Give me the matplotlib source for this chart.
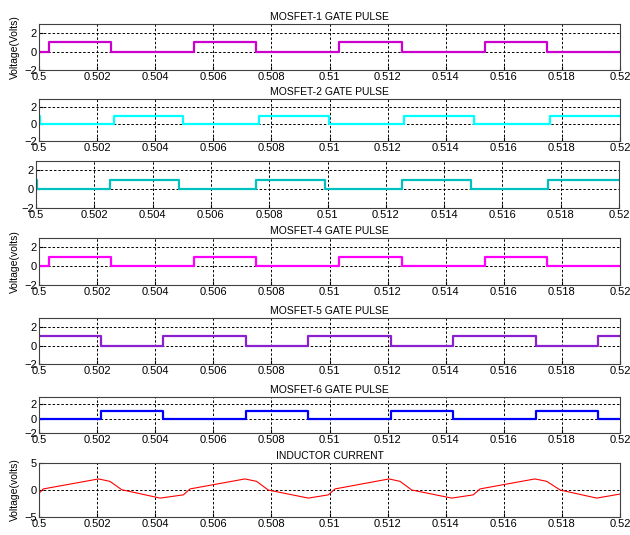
import matplotlib.pyplot as plt

plt.rcParams['font.family'] = ['Liberation Sans', 'DejaVu Sans']
plt.rcParams['font.size'] = 7.5

# gate pulse edge times (s) and levels, drawn as step signals
t_g1 = [0.5, 0.50035, 0.50248, 0.50535, 0.50747, 0.51034, 0.51248, 0.51535, 0.51748, 0.52]
v_g1 = [0, 1, 0, 1, 0, 1, 0, 1, 0, 0]

t_g2 = [0.5, 0.50002, 0.50259, 0.50497, 0.50758, 0.50997, 0.51258, 0.51497, 0.51758, 0.52]
v_g2 = [1, 0, 1, 0, 1, 0, 1, 0, 1, 1]

t_g3 = [0.5, 0.50002, 0.50254, 0.50491, 0.50755, 0.50992, 0.51255, 0.51492, 0.51755, 0.52]
v_g3 = [1, 0, 1, 0, 1, 0, 1, 0, 1, 1]

t_g4 = [0.5, 0.50035, 0.50248, 0.50535, 0.50747, 0.51034, 0.51248, 0.51535, 0.51748, 0.52]
v_g4 = [0, 1, 0, 1, 0, 1, 0, 1, 0, 0]

t_g5 = [0.5, 0.50212, 0.50426, 0.50713, 0.50925, 0.51212, 0.51425, 0.51712, 0.51925, 0.52]
v_g5 = [1, 0, 1, 0, 1, 0, 1, 0, 1, 1]

t_g6 = [0.5, 0.50212, 0.50426, 0.50713, 0.50925, 0.51212, 0.51425, 0.51712, 0.51925, 0.52]
v_g6 = [0, 1, 0, 1, 0, 1, 0, 1, 0, 0]

# inductor current samples
t_il = [0.5, 0.50015, 0.50205, 0.50244, 0.50285, 0.50417, 0.50497, 0.5052,
        0.50709, 0.50749, 0.50789, 0.50927, 0.50996, 0.51019, 0.51205, 0.51243,
        0.51283, 0.51421, 0.51495, 0.51518, 0.51707, 0.51748, 0.51794, 0.5192, 0.52]
i_il = [-0.6, 0.2, 2.05, 1.6, 0.05, -1.5, -0.9, 0.2,
        2.05, 1.6, 0.0, -1.5, -0.9, 0.2, 2.05, 1.6,
        0.0, -1.5, -0.9, 0.2, 2.05, 1.6, 0.0, -1.5, -0.75]

xticks = [0.5, 0.502, 0.504, 0.506, 0.508, 0.51, 0.512, 0.514, 0.516, 0.518, 0.52]
xtick_labels = ['0.5', '0.502', '0.504', '0.506', '0.508', '0.51',
                '0.512', '0.514', '0.516', '0.518', '0.52']

W, H = 630, 535
fig = plt.figure(figsize=(W / 100, H / 100), dpi=100)

# (left, right, top, bottom) in pixels
boxes = [(39, 620, 24, 70), (39, 620, 99, 141), (36, 619, 161, 208),
         (39, 620, 238, 285), (39, 620, 318, 364), (39, 620, 397, 433),
         (39, 620, 463, 517)]

panels = [
    (t_g1, v_g1, '#CC00CC', 'MOSFET-1 GATE PULSE', 'Voltage(Volts)'),
    (t_g2, v_g2, '#00FFFF', 'MOSFET-2 GATE PULSE', None),
    (t_g3, v_g3, '#00C0C0', None, None),
    (t_g4, v_g4, '#FF00FF', 'MOSFET-4 GATE PULSE', 'Voltage(volts)'),
    (t_g5, v_g5, '#8A20D0', 'MOSFET-5 GATE PULSE', None),
    (t_g6, v_g6, '#0000FF', 'MOSFET-6 GATE PULSE', None),
    (t_il, i_il, '#FF0000', 'INDUCTOR CURRENT', 'Voltage(volts)'),
]

for (l, r, t, b), (x, y, col, title, ylab) in zip(boxes, panels):
    ax = fig.add_axes([l / W, 1 - b / H, (r - l) / W, (b - t) / H])
    if title == 'INDUCTOR CURRENT':
        ax.plot(x, y, color=col, linewidth=0.8)
        ax.set_ylim(-5, 5)
        ax.set_yticks([-5, 0, 5])
    else:
        ax.plot(x, y, color=col, linewidth=1.6, drawstyle='steps-post')
        ax.set_ylim(-2, 3)
        ax.set_yticks([-2, 0, 2])
    ax.set_xlim(0.5, 0.52)
    ax.set_xticks(xticks)
    ax.set_xticklabels(xtick_labels)
    ax.grid(True, color='black', linestyle=(0, (2.5, 2)), linewidth=0.7)
    ax.tick_params(direction='in', length=3, pad=1.5, colors='black', labelsize=8)
    for s in ax.spines.values():
        s.set_color('#404040')
        s.set_linewidth(0.8)
    if title:
        ax.set_title(title, fontsize=7.5, pad=3)
    if ylab:
        ax.set_ylabel(ylab, fontsize=7.5, labelpad=3)

fig.savefig('out.png', dpi=100)
